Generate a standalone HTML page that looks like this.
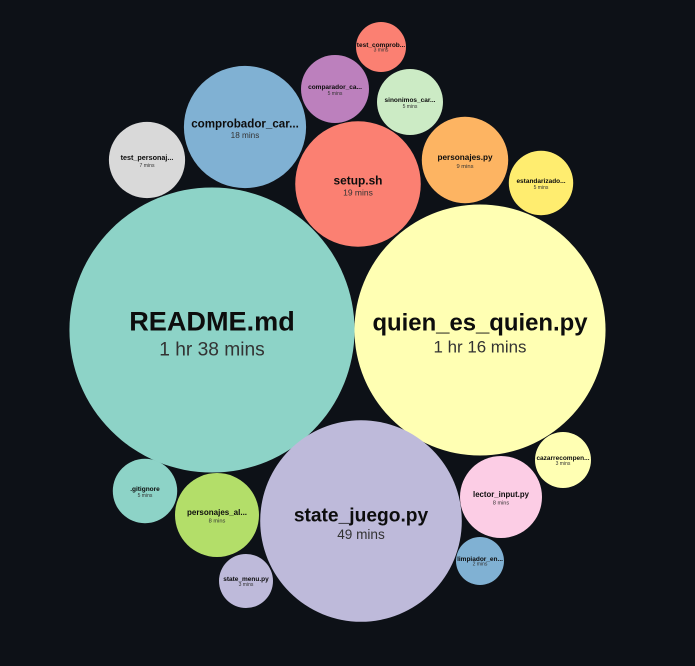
<!DOCTYPE html>
<html><head><meta charset="utf-8"><style>
html,body{margin:0;padding:0;background:#0d1117;width:695px;height:666px;overflow:hidden}
svg{display:block;font-family:"Liberation Sans",sans-serif}
</style></head><body>
<svg id="chart" width="695" height="666" viewBox="0 0 695 666"></svg>
<script>
const names = ["README.md","quien_es_quien.py","state_juego.py","setup.sh","comprobador_car...","personajes.py","personajes_al...","lector_input.py","test_personaj...","comparador_ca...","sinonimos_car...","estandarizado...","test_comprob...",".gitignore","state_menu.py","cazarrecompen...","limpiador_en..."];
const minutes = [98,76,49,19,18,9,8,8,7,5,5,5,3,5,3,3,2];
const timeLabels = ["1 hr 38 mins","1 hr 16 mins","49 mins","19 mins","18 mins","9 mins","8 mins","8 mins","7 mins","5 mins","5 mins","5 mins","3 mins","5 mins","3 mins","3 mins","2 mins"];
const colors = ["#8dd3c7","#ffffb3","#bebada","#fb8072","#80b1d3","#fdb462","#b3de69","#fccde5","#d9d9d9","#bc80bd","#ccebc5","#ffed6f","#fb8072","#8dd3c7","#bebada","#ffffb3","#80b1d3"];
// pack-layout centres (output of circle packing)
const layoutX = [212,480,361,358,245,465,217,501,147,335,410,541,381,145,246,563,480];
const layoutY = [330,330,521,184,127,160,515,497,160,89,102,183,47,491,581,460,561];
const rScale = v => 14.4*Math.sqrt(v);
const minR = [0,0,0,0,0,42,42,41,38,34,33,32,25,32,27,28,24];
const svg = document.getElementById('chart');
const NS = "http://www.w3.org/2000/svg";
names.forEach((n,i)=>{
  const r = Math.max(rScale(minutes[i]), minR[i]);
  const cx = layoutX[i], cy = layoutY[i];
  const g = document.createElementNS(NS,'g');
  
  
  const c = document.createElementNS(NS,'circle');
  c.setAttribute('cx',cx);c.setAttribute('cy',cy);c.setAttribute('r',r);c.setAttribute('fill',colors[i]);
  
  
  g.appendChild(c);
  let fs1 = Math.max(r*0.19,6.5), fs2 = Math.max(r*0.135,5);
  const t1 = document.createElementNS(NS,'text');
  t1.setAttribute('x',cx);t1.setAttribute('y',cy+r*0.005);t1.setAttribute('text-anchor','middle');
  t1.setAttribute('font-size',fs1.toFixed(1));t1.setAttribute('font-weight','bold');t1.setAttribute('fill','#0d0d0d');
  t1.textContent = n;
  
  
  g.appendChild(t1);
  const t2 = document.createElementNS(NS,'text');
  t2.setAttribute('x',cx);t2.setAttribute('y',cy+r*0.18);t2.setAttribute('text-anchor','middle');
  t2.setAttribute('font-size',fs2.toFixed(1));t2.setAttribute('fill','#333');
  t2.textContent = timeLabels[i];
  
  
  g.appendChild(t2);
  svg.appendChild(g);
});
</script>
</body></html>
